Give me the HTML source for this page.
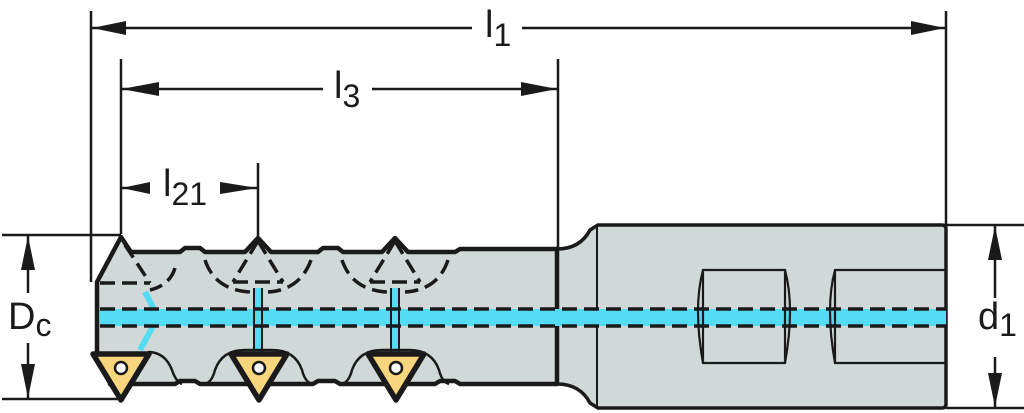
<!DOCTYPE html>
<html><head><meta charset="utf-8"><style>
html,body{margin:0;padding:0;background:#fff;}
svg{display:block;}
text{font-family:"Liberation Sans Narrow","Liberation Sans",sans-serif;fill:#1a1a1a;}
</style></head><body>
<svg width="1024" height="413" viewBox="0 0 1024 413" xmlns="http://www.w3.org/2000/svg">
<!-- dimension lines -->
<g stroke="#1a1a1a" stroke-width="2.5" fill="none">
<line x1="91" y1="11" x2="91" y2="282"/>
<line x1="946" y1="11" x2="946" y2="226"/>
<line x1="121" y1="59" x2="121" y2="234"/>
<line x1="558" y1="59" x2="558" y2="250"/>
<line x1="258" y1="163" x2="258" y2="240"/>
<line x1="91" y1="28" x2="472" y2="28"/>
<line x1="522" y1="28" x2="946" y2="28"/>
<line x1="121" y1="89" x2="323" y2="89"/>
<line x1="372" y1="89" x2="558" y2="89"/>
<line x1="121" y1="188" x2="150" y2="188"/>
<line x1="220" y1="188" x2="258" y2="188"/>
<line x1="2" y1="235" x2="121" y2="235"/>
<line x1="2" y1="399" x2="121" y2="399"/>
<line x1="28" y1="235" x2="28" y2="293"/>
<line x1="28" y1="343" x2="28" y2="399"/>
<line x1="946" y1="225" x2="1024" y2="225"/>
<line x1="946" y1="408" x2="1024" y2="408"/>
<line x1="995" y1="225" x2="995" y2="298"/>
<line x1="995" y1="357" x2="995" y2="408"/>
</g>
<g fill="#1a1a1a">
<polygon points="92,28 126,21 126,35"/>
<polygon points="945,28 911,21 911,35"/>
<polygon points="122,89 159,82 159,96"/>
<polygon points="557,89 521,82 521,96"/>
<polygon points="122,188 150,182 150,194"/>
<polygon points="257,188 220,182 220,194"/>
<polygon points="28,236 21,270 35,270"/>
<polygon points="28,398 21,364 35,364"/>
<polygon points="995,226 988,260 1002,260"/>
<polygon points="995,407 988,373 1002,373"/>
</g>
<text x="485" y="37" font-size="38">l<tspan font-size="32" dy="9">1</tspan></text>
<text x="334" y="98" font-size="38">l<tspan font-size="32" dy="9">3</tspan></text>
<text x="163" y="196" font-size="38">l<tspan font-size="32" dy="9">21</tspan></text>
<text x="8" y="329" font-size="38">D<tspan font-size="32" dy="7">c</tspan></text>
<text x="978" y="329" font-size="38">d<tspan font-size="32" dy="7">1</tspan></text>
<!-- shank -->
<path d="M557,249 Q580,249 590,230 L598,225 L942,225 Q946,225 946,229 L946,404 Q946,408 942,408 L598,408 L590,403 Q580,384 557,384 Z" fill="#d1d9d8" stroke="#1a1a1a" stroke-width="3.5"/>
<line x1="597" y1="225" x2="597" y2="408" stroke="#1a1a1a" stroke-width="2"/>
<line x1="557" y1="249" x2="557" y2="384" stroke="#1a1a1a" stroke-width="2"/>
<!-- body -->
<path d="M97,282 L121,237 L131,252 L180,252 L185,248 L200,248 L205,252 L245,252 L258,238 L271,252 L318,252 L323,248 L338,248 L343,252 L382,252 L395,238 L408,252 L455,252 L460,249 L557,249 L557,384 L460,384 L455,381 L440,381 L435,384 L340,384 L335,381 L318,381 L313,384 L200,384 L195,381 L180,381 L175,384 L110,384 L110,356 L97,356 Z" fill="#d1d9d8" stroke="#1a1a1a" stroke-width="4.5" stroke-linejoin="round"/>
<!-- coolant -->
<rect x="100" y="309" width="846" height="17" fill="#54dcf4"/>
<path d="M145,292 L158,317 L140,350" stroke="#54dcf4" stroke-width="6" fill="none"/>
<rect x="254" y="288" width="8" height="70" fill="#54dcf4"/>
<rect x="391" y="288" width="8" height="70" fill="#54dcf4"/>
<g stroke="#1a1a1a" stroke-width="2" fill="none">
<line x1="254" y1="288" x2="254" y2="358"/><line x1="262" y1="288" x2="262" y2="358"/>
<line x1="391" y1="288" x2="391" y2="358"/><line x1="399" y1="288" x2="399" y2="358"/>
</g>
<g stroke="#1a1a1a" stroke-width="3.5" fill="none" stroke-dasharray="15,7">
<line x1="100" y1="309" x2="946" y2="309"/>
<line x1="100" y1="326" x2="946" y2="326"/>
<line x1="100" y1="283" x2="150" y2="283"/>
<line x1="233" y1="282" x2="283" y2="282"/>
<line x1="370" y1="282" x2="420" y2="282"/>
<path d="M125,245 L150,283 M175,268 Q170,285 150,290"/>
<path d="M258,241 L233,282 M258,241 L283,282 M205,260 Q215,290 250,292 M311,260 Q300,290 268,292"/>
<path d="M395,241 L370,282 M395,241 L420,282 M342,260 Q352,290 387,292 M448,260 Q438,290 405,292"/>
</g>
<!-- shank flats -->
<g stroke="#1a1a1a" stroke-width="2.2" fill="none">
<path d="M703,270 L785,270 Q795,307 785,363 L703,363 Q693,307 703,270 Z"/>
<line x1="785" y1="270" x2="785" y2="363"/><line x1="703" y1="270" x2="703" y2="363"/>
<path d="M946,270 L835,270 Q825,307 835,363 L946,363 M835,270 L835,363"/>
</g>
<!-- pockets -->
<g stroke="#1a1a1a" stroke-width="2.5" fill="none">
<path d="M148,352 Q165,352 172,370 Q176,382 182,384"/>
<path d="M205,384 Q212,382 215,370 Q222,350 245,350 L272,350 Q295,350 302,370 Q305,382 312,384"/>
<path d="M342,384 Q349,382 352,370 Q359,350 382,350 L409,350 Q432,350 439,370 Q442,382 449,384"/>
</g>
<!-- inserts -->
<g fill="#f8d67e" stroke="#1a1a1a" stroke-width="5.5" stroke-linejoin="round">
<polygon points="93,354 149,354 121,400"/>
<polygon points="231,354 287,354 259,400"/>
<polygon points="368,354 424,354 396,400"/>
</g>
<g fill="#fff" stroke="#1a1a1a" stroke-width="2.5">
<circle cx="121" cy="368" r="6"/>
<circle cx="259" cy="368" r="6"/>
<circle cx="396" cy="368" r="6"/>
</g>
</svg>
</body></html>
